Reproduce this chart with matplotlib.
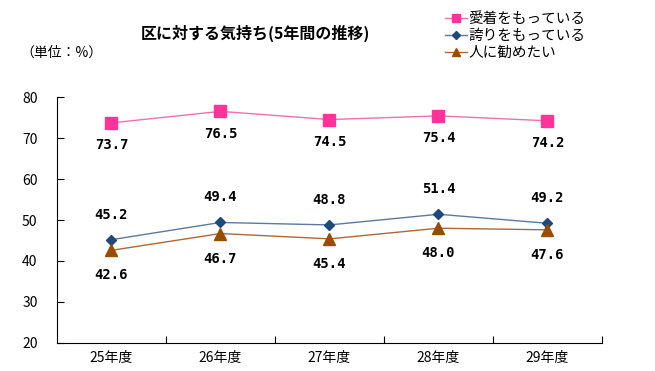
import matplotlib
matplotlib.use("Agg")
import matplotlib.pyplot as plt

plt.rcParams['font.family'] = ['Noto Sans CJK JP', 'DejaVu Sans']

# data
years = ["25年度", "26年度", "27年度", "28年度", "29年度"]
aichaku = [73.7, 76.5, 74.5, 75.4, 74.2]
hokori = [45.2, 49.4, 48.8, 51.4, 49.2]
susume = [42.6, 46.7, 45.4, 48.0, 47.6]

fig = plt.figure(figsize=(6.55, 3.71), dpi=100)
ax = fig.add_axes([0.087, 0.0755, 0.832, 0.663])

x = list(range(len(years)))
l1, = ax.plot(x, aichaku, color="#F070B0", lw=1, marker="s", ms=8,
              mfc="#FF3399", mec="#FF3399", label="愛着をもっている")
l2, = ax.plot(x, hokori, color="#5A7AA0", lw=1, marker="D", ms=5.5,
              mfc="#1F497D", mec="#1F497D", label="誇りをもっている")
l3, = ax.plot(x, susume, color="#A86A3A", lw=1, marker="^", ms=8,
              mfc="#994C00", mec="#994C00", label="人に勧めたい")

# data labels
lab = dict(ha="center", va="center", fontsize=10, fontweight="bold",
           family="DejaVu Sans Mono", textcoords="offset points")
for i in x:
    ax.annotate(f"{aichaku[i]:.1f}", (i, aichaku[i]), xytext=(0, -16), **lab)
    ax.annotate(f"{hokori[i]:.1f}", (i, hokori[i]), xytext=(0, 18), **lab)
    ax.annotate(f"{susume[i]:.1f}", (i, susume[i]), xytext=(0, -18), **lab)

ax.set_xlim(-0.5, 4.5)
ax.set_ylim(20, 80)
ax.set_yticks(range(20, 81, 10))
ax.set_xticks([i + 0.5 for i in x])
ax.set_xticklabels([])
ax.set_xticks(x, minor=True)
ax.set_xticklabels(years, minor=True, fontsize=10)
ax.tick_params(axis="x", which="major", direction="in", length=5)
ax.tick_params(axis="x", which="minor", length=0, pad=6)
ax.tick_params(axis="y", direction="in", length=5, labelsize=10, pad=14)
ax.spines["top"].set_visible(False)
ax.spines["right"].set_visible(False)

fig.text(255 / 655, 1 - 33 / 371, "区に対する気持ち(5年間の推移)",
         ha="center", va="center", fontsize=11.5, fontweight="bold")
fig.text(20 / 655, 1 - 53 / 371, "（単位：%）", ha="left", va="center", fontsize=10)

fig.legend(handles=[l1, l2, l3], loc="upper left",
           bbox_to_anchor=(432 / 655, 1 + 1 / 371), frameon=False,
           fontsize=10.5, handlelength=1.5, handletextpad=0.1,
           labelspacing=0.2, markerscale=0.75)

fig.savefig("out.png", dpi=100)
